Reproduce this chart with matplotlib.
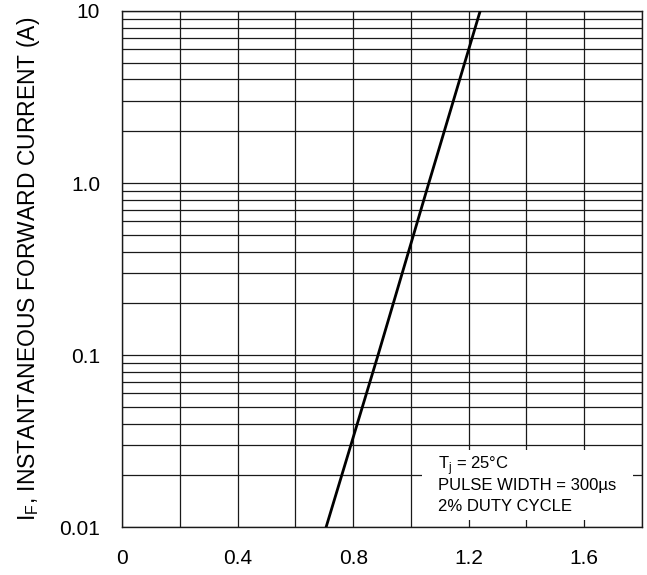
import matplotlib
matplotlib.use('Agg')
import matplotlib.pyplot as plt
import matplotlib.ticker as mticker
from matplotlib.patches import Rectangle

# --- Dados (Tj = 25°C) ---
tensao_vf = [0.706, 0.886, 1.062, 1.24]      # V
corrente_if = [0.01, 0.1, 1.0, 10.0]         # A

# --- Eixos / rótulos ---
ticks_x = [0, 0.4, 0.8, 1.2, 1.6]
rotulos_x = ['0', '0.4', '0.8', '1.2', '1.6']
ticks_y = [0.01, 0.1, 1.0, 10]
rotulos_y = ['0.01', '0.1', '1.0', '10']
linhas_condicoes = ['T$_\\mathregular{j}$ = 25°C', 'PULSE WIDTH = 300µs', '2% DUTY CYCLE']

plt.rcParams['font.family'] = ['Liberation Sans', 'DejaVu Sans']

fig = plt.figure(figsize=(6.47, 5.75), dpi=100)
ax = fig.add_axes([0.189, 0.083, 0.803, 0.898])

cor_grade = '#1a1a1a'

ax.set_yscale('log')
ax.set_xlim(0, 1.8)
ax.set_ylim(0.01, 10)

ax.set_xticks(ticks_x)
ax.set_xticklabels(rotulos_x)
ax.xaxis.set_minor_locator(mticker.MultipleLocator(0.2))
ax.set_yticks(ticks_y)
ax.set_yticklabels(rotulos_y)
ax.yaxis.set_minor_locator(mticker.LogLocator(base=10, subs=range(2, 10)))
ax.yaxis.set_minor_formatter(mticker.NullFormatter())

ax.tick_params(which='both', length=0)
ax.tick_params(axis='x', pad=16, labelsize=15)
ax.tick_params(axis='y', pad=16, labelsize=15)

ax.set_axisbelow(True)
ax.grid(which='both', color=cor_grade, linewidth=0.9)
for s in ax.spines.values():
    s.set_color(cor_grade)
    s.set_linewidth(1.0)

# curva
ax.plot(tensao_vf, corrente_if, color='black', linewidth=2.0, zorder=3)

# fundo branco da caixa de condições (cobre a grade)
ax.add_patch(Rectangle((1.04, 0.011), 0.73, 0.017, facecolor='white',
                       edgecolor='none', zorder=1.5))
# uma linha de texto por vez (espaçamento uniforme)
for i, linha in enumerate(linhas_condicoes):
    ax.text(0.608, 0.113 - i * 0.0405, linha, transform=ax.transAxes,
            fontsize=12, ha='left', va='baseline', zorder=4)

ax.set_ylabel('I$_\\mathregular{F}$, INSTANTANEOUS FORWARD CURRENT (A)', fontsize=16.5)
ax.yaxis.set_label_coords(-0.155, 0.5)

fig.savefig('out.png', dpi=100)
print("Gráfico salvo como 'out.png'")
